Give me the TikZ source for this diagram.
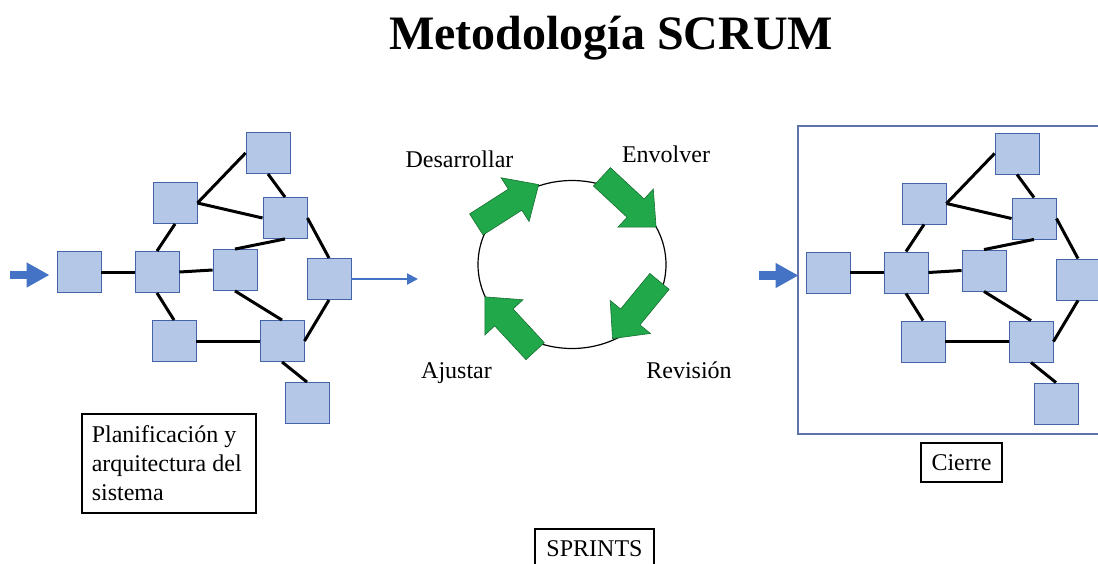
\documentclass[tikz,border=0pt]{standalone}
\usepackage{fontspec}
\setmainfont{Liberation Serif}
\usepackage{xcolor}
\usetikzlibrary{arrows.meta, shapes.geometric}

\definecolor{boxblue}{RGB}{180,199,231}
\definecolor{boxedge}{RGB}{68,100,170}
\definecolor{arrowblue}{RGB}{68,114,196}
\definecolor{cyclegreen}{RGB}{33,168,74}
\definecolor{cycleedge}{RGB}{24,110,48}
\definecolor{framecol}{RGB}{96,114,170}

\tikzset{
  netbox/.style={draw=boxedge, fill=boxblue, line width=0.9pt, minimum width=44pt, minimum height=41pt, inner sep=0pt},
  netline/.style={line width=3pt},
  inarrow/.style={arrowblue, line width=8.3pt, -{Triangle[length=23pt, width=23.5pt]}},
  outarrow/.style={arrowblue, line width=2.2pt, -{Triangle[length=11pt, width=11pt]}},
  txtbox/.style={draw, line width=1.5pt, inner sep=0pt, font=\fontsize{24}{28.8}\selectfont},
  lbl/.style={inner sep=0pt, font=\fontsize{24}{28.8}\selectfont, anchor=base},
  cyclearrow/.pic={
    \filldraw[fill=cyclegreen, draw=cycleedge, line width=0.6pt]
      (-37,-12.5) -- (9,-12.5) -- (9,-26) -- (37,0) -- (9,26) -- (9,12.5) -- (-37,12.5) -- cycle;
  }
}

\begin{document}
\begin{tikzpicture}[x=1pt, y=-1pt]
  \useasboundingbox (0,0) rectangle (1098,563);
  \clip (0,0) rectangle (1098,563);

  \node[anchor=base, inner sep=0pt, font=\fontsize{48}{58}\selectfont\bfseries] (title) at (611,49) {Metodología SCRUM};

  % frame of the last stage
  \node[draw=framecol, line width=1.5pt, anchor=north west, minimum width=320pt, minimum height=308pt, inner sep=0pt] (frame) at (797,125) {};

  % the two networks
  \foreach \p/\dx/\dy in {l/0/0, r/749/0.5} {
    \begin{scope}[shift={(\dx,\dy)}]
      \node[netbox] (\p a) at ( 79,272) {};
      \node[netbox] (\p b) at (157,272) {};
      \node[netbox] (\p c) at (175,203) {};
      \node[netbox] (\p d) at (268,153) {};
      \node[netbox] (\p e) at (285,218) {};
      \node[netbox] (\p f) at (235,270) {};
      \node[netbox] (\p g) at (329,279) {};
      \node[netbox] (\p h) at (174,341) {};
      \node[netbox] (\p i) at (282,341) {};
      \node[netbox] (\p j) at (307,403) {};
      \coordinate (\p in) at (10,275);
    \end{scope}

    \draw[netline] (\p a.east)  -- (\p b.west);
    \draw[netline] (\p b.north) -- (\p c.south);
    \draw[netline] (\p c.east)  -- (\p d.west);
    \draw[netline] (\p c.east)  -- (\p e.west);
    \draw[netline] (\p d.south) -- (\p e.north);
    \draw[netline] (\p f.north) -- (\p e.south);
    \draw[netline] (\p b.east)  -- (\p f.west);
    \draw[netline] (\p b.south) -- (\p h.north);
    \draw[netline] (\p h.east)  -- (\p i.west);
    \draw[netline] (\p f.south) -- (\p i.north);
    \draw[netline] (\p e.east)  -- (\p g.north);
    \draw[netline] (\p i.east)  -- (\p g.south);
    \draw[netline] (\p i.south) -- (\p j.north);

    \draw[inarrow, shorten >=7pt] (\p in) -- (\p in -| \p a.west);
  }

  \coordinate (out) at (418,279);
  \draw[outarrow] (lg.east) -- (out);

  % sprint cycle
  \node[draw, ellipse, line width=1.2pt, minimum width=188pt, minimum height=168pt, inner sep=0pt] (cyc) at (572,264.5) {};
  \pic[rotate=32.6]   at (507.5,204.5) {cyclearrow};
  \pic[rotate=-42.9]  at (629,202)     {cyclearrow};
  \pic[rotate=-129.4] at (636,310)     {cyclearrow};
  \pic[rotate=132.8]  at (510,324)     {cyclearrow};

  \node[lbl] (des) at (459.5,167) {Desarrollar};
  \node[lbl] (env) at (666,162)   {Envolver};
  \node[lbl] (aju) at (456.5,378) {Ajustar};
  \node[lbl] (rev) at (689,378)   {Revisión};

  % text boxes
  \node[txtbox, anchor=north west, text width=154pt, inner xsep=10pt, minimum height=99pt, align=flush left] (plan) at (81,413) {Planificación y\\arquitectura del\\sistema};
  \node[txtbox, minimum width=81pt, minimum height=39pt]  (cierre)  at (961.5,462.5) {Cierre};
  \node[txtbox, minimum width=119pt, minimum height=39pt] (sprints) at (594.5,548.5) {SPRINTS};
\end{tikzpicture}
\end{document}
